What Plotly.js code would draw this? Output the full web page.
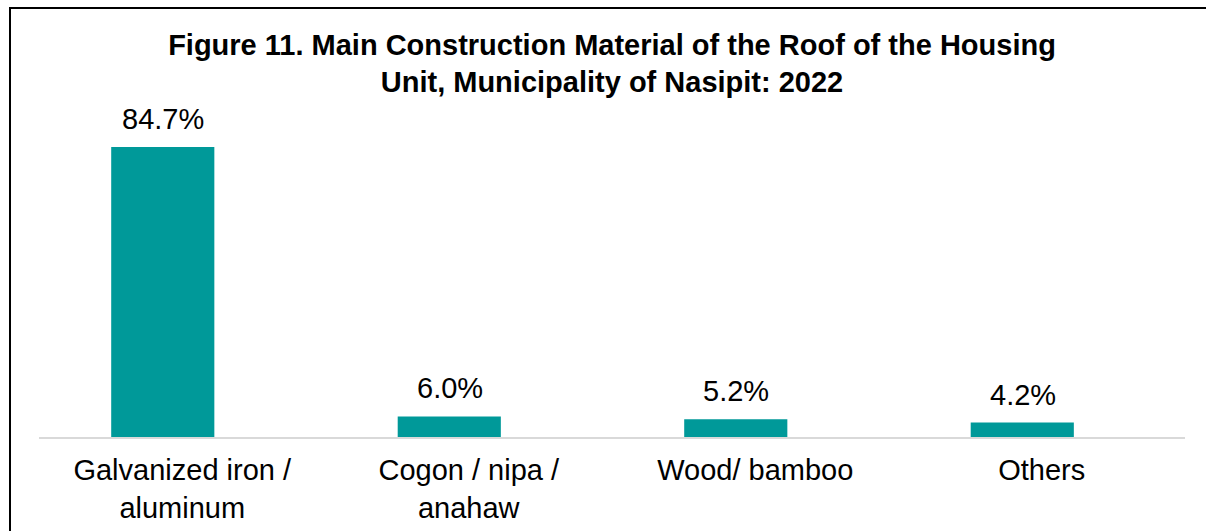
<!DOCTYPE html>
<html>
<head>
<meta charset="utf-8">
<script src="https://cdn.plot.ly/plotly-3.0.1.min.js"></script>
<style>
  html, body { margin: 0; padding: 0; background: #fff; overflow: hidden; }
  #chart { width: 1206px; height: 531px; }
  #frame {
    position: absolute; left: 9px; top: 7px; width: 1400px; height: 700px;
    border-left: 2px solid #000; border-top: 2px solid #000;
    pointer-events: none;
  }
</style>
</head>
<body>
<div id="chart"></div>
<div id="frame"></div>
<script>
const categories = [
    "Galvanized iron /<br>aluminum",
    "Cogon / nipa /<br>anahaw",
    "Wood/ bamboo",
    "Others"
];
const shares = [84.7, 6.0, 5.2, 4.2];

const FONT = "Liberation Sans, Arial, sans-serif";

const traces = [
    {
        type: "bar",
        x: categories,
        y: shares,
        width: 0.36,
        offset: -0.248,   // bars sit left of the label centre, as in the source
        marker: { color: "#009999" },
        hoverinfo: "x+y"
    }
];

// value labels above each bar
const labels = categories.map((c, i) => ({
    x: c,
    y: shares[i],
    xref: "x",
    yref: "y",
    text: shares[i].toFixed(1) + "%",
    showarrow: false,
    xshift: -19,
    yshift: 28,
    yanchor: "middle",
    font: { family: FONT, size: 29, color: "#000" }
}));

const layout = {
    width: 1206,
    height: 531,
    showlegend: false,
    paper_bgcolor: "#fff",
    plot_bgcolor: "#fff",
    margin: { l: 39, r: 21, t: 110, b: 94 },

    title: {
        text: "Figure 11. Main Construction Material of the Roof of the Housing<br>Unit, Municipality of Nasipit: 2022",
        font: { family: FONT, size: 29, color: "#000", weight: "bold" },
        xref: "paper",
        x: 0.5,
        xanchor: "center",
        yref: "container",
        y: 0.897,
        yanchor: "top"
    },

    xaxis: {
        type: "category",
        range: [-0.5, 3.5],
        showline: true,
        linecolor: "#d9d9d9",
        linewidth: 2,
        ticks: "",
        ticklabelstandoff: 6,
        showgrid: false,
        zeroline: false,
        fixedrange: true,
        tickfont: { family: FONT, size: 29, color: "#000" }
    },

    yaxis: {
        range: [0, 95.5],
        visible: false,
        showgrid: false,
        zeroline: false,
        fixedrange: true
    },

    annotations: labels
};

Plotly.newPlot("chart", traces, layout, { displayModeBar: false, staticPlot: true });
</script>
</body>
</html>
